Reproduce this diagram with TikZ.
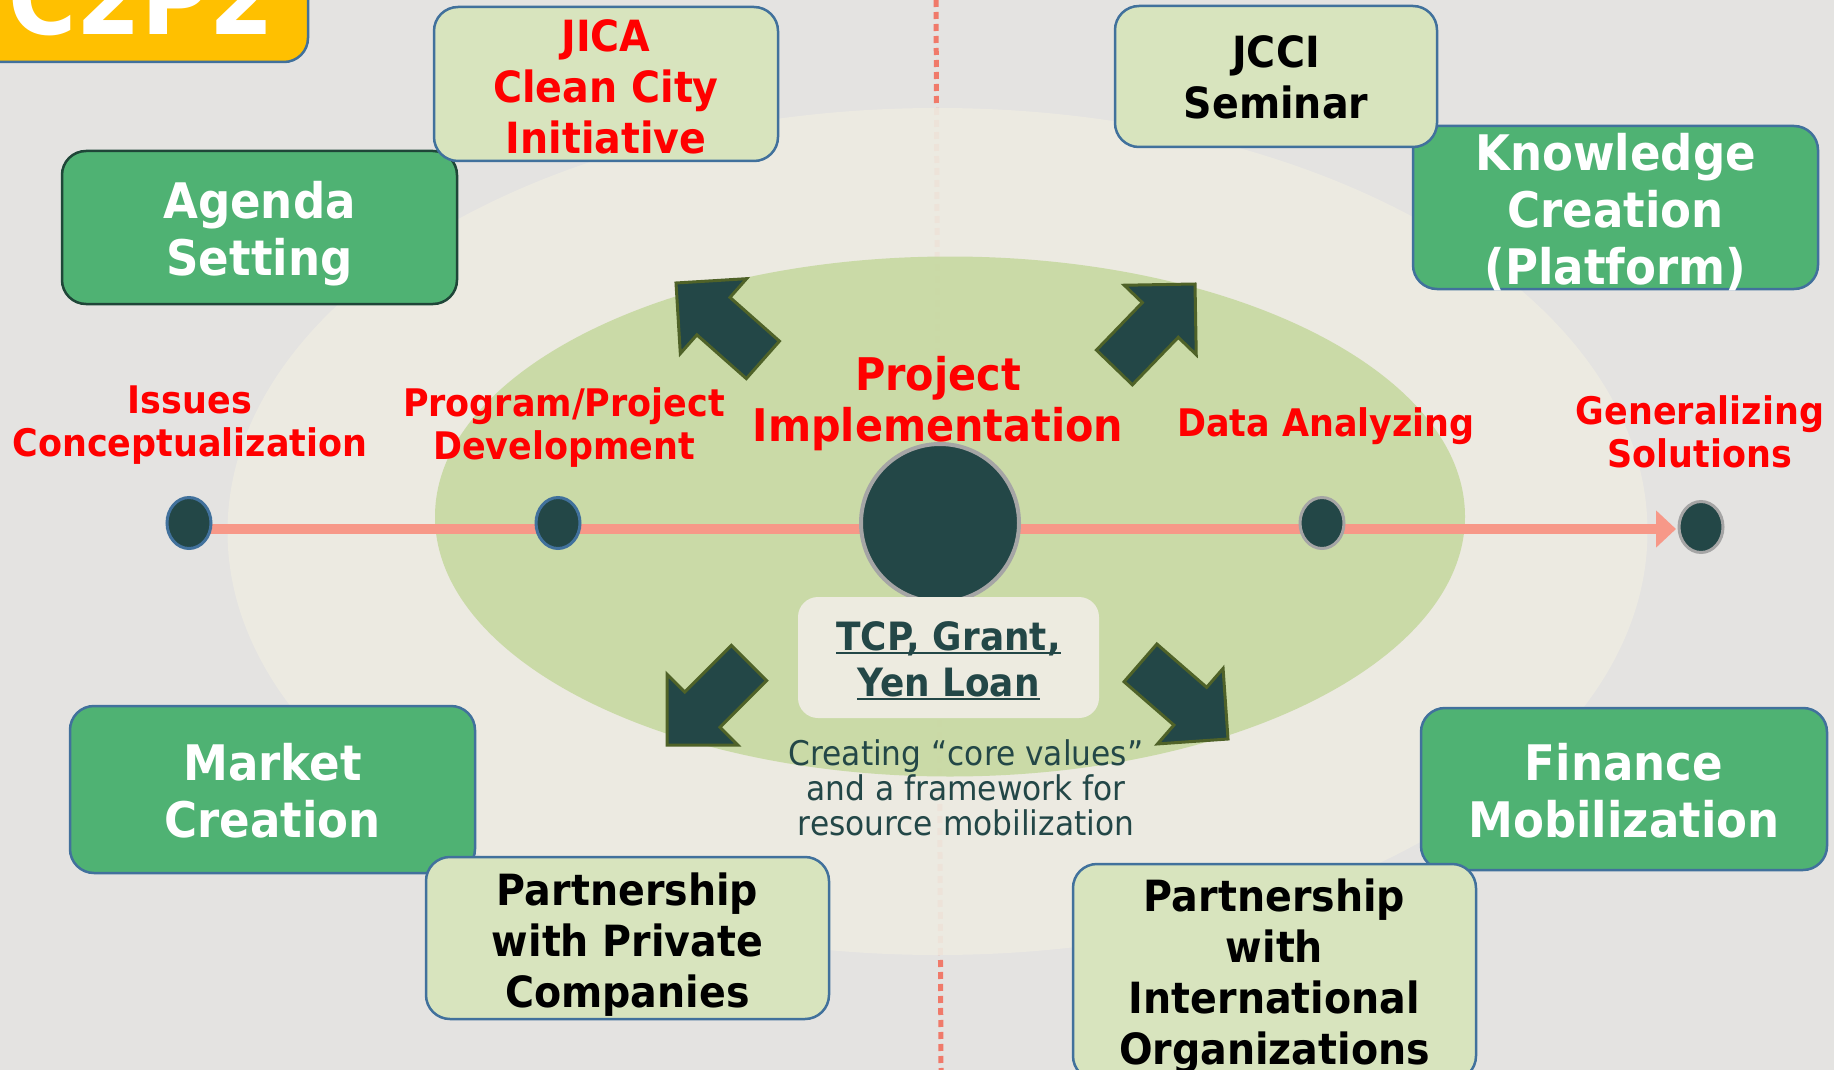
\documentclass[tikz,border=0pt]{standalone}
\usepackage{fontspec}
\setmainfont{DejaVu Sans}[FakeStretch=0.92]
\usetikzlibrary{arrows.meta,shapes.geometric}
\definecolor{bgcol}{HTML}{E4E3E1}
\definecolor{paleell}{HTML}{EDEBE2}
\definecolor{greenell}{HTML}{C8D9A3}
\definecolor{tealc}{HTML}{234747}
\definecolor{olivec}{HTML}{4F6228}
\definecolor{gbox}{HTML}{4FB273}
\definecolor{lbox}{HTML}{D8E4BE}
\definecolor{boxblue}{HTML}{41719C}
\definecolor{agborder}{HTML}{1F4638}
\definecolor{salmonc}{HTML}{F79888}
\definecolor{dashc}{HTML}{F07A6A}
\definecolor{yellowc}{HTML}{FFC000}
\definecolor{grayb}{HTML}{A5A5A5}
\definecolor{creamc}{HTML}{EDEBE0}
\newsavebox\ulbox
\newcommand\myul[1]{\sbox\ulbox{#1}\rlap{\rule[-0.1em]{\wd\ulbox}{0.07em}}\usebox\ulbox}
\newcommand\myblockarrow[3]{%
  \begin{scope}[shift={(#1,#2)},rotate=#3]
    \draw[blockarrow] (0,0) -- (-50,50) -- (-50,25) -- (-116,25) -- (-116,-25) -- (-50,-25) -- (-50,-50) -- cycle;
  \end{scope}}
\tikzset{
  every node/.style={inner sep=0pt, outer sep=0pt},
  greenbox/.style={draw=boxblue, line width=2.5pt, fill=gbox, rounded corners=24pt},
  lightbox/.style={draw=boxblue, line width=2.5pt, fill=lbox, rounded corners=24pt},
  greentext/.style={text=white, font=\bfseries\fontsize{49}{57}\selectfont, align=center},
  lighttext/.style={text=black, font=\bfseries\fontsize{43}{51}\selectfont, align=center},
  redlabel/.style={text=red, font=\bfseries\fontsize{38}{43}\selectfont, align=center},
  tldot/.style={ellipse, fill=tealc, line width=3pt, minimum width=44pt, minimum height=51pt},
  blockarrow/.style={fill=tealc, draw=olivec, line width=3pt, line join=miter},
  timeline/.style={salmonc, line width=10pt, -{Triangle[length=20pt,width=36pt]}},
  dashline/.style={dashc, line width=5pt, dash pattern=on 7pt off 5pt}
}
\begin{document}
\begin{tikzpicture}[x=1pt,y=1pt]
\useasboundingbox (0,0) rectangle (1834,-1070);
\clip (0,0) rectangle (1834,-1070);
\fill[bgcol] (0,0) rectangle (1834,-1070);
% dashed divider
\coordinate (dtop) at (936,0);
\coordinate (dbot) at (941,-1070);
\draw[dashline] (dtop) -- (dbot);
% ellipses
\fill[paleell, fill opacity=0.93] (937.5,-531.5) ellipse [x radius=710pt, y radius=423.5pt];
\fill[greenell, fill opacity=0.93] (950,-516.5) ellipse [x radius=515pt, y radius=260pt];
% timeline
\coordinate (tlstart) at (189,-529);
\coordinate (tlend) at (1676,-529);
\draw[timeline] (tlstart) -- (tlend);
% dots
\node[tldot, draw=boxblue] (d1) at (189,-523) {};
\node[tldot, draw=boxblue] (d2) at (558,-523) {};
\node[tldot, draw=grayb] (d3) at (1322,-523) {};
\node[tldot, draw=grayb] (d4) at (1701,-527) {};
\node[circle, fill=tealc, draw=grayb, line width=4pt, minimum size=158pt] (hub) at (940,-523) {};
% TCP box
\node[fill=creamc, rounded corners=20pt, minimum width=301pt, minimum height=121pt] (tcp) at (948.5,-657.5) {};
\node[text=tealc, font=\bfseries\fontsize{39}{46}\selectfont, align=center] (tcpt) at (948.5,-661)
  {\myul{TCP, Grant,}\\\myul{Yen Loan}};
% block arrows
\myblockarrow{676}{-283}{138.5}
\myblockarrow{1195}{-284}{46}
\myblockarrow{667}{-745}{225}
\myblockarrow{1228}{-739}{-41}
% red labels
\node[redlabel] (l1) at (190,-425) {Issues\\Conceptualization};
\node[redlabel] (l2) at (564,-428) {Program/Project\\Development};
\node[redlabel, font=\bfseries\fontsize{45}{51}\selectfont] (l3) at (938,-404) {Project\\Implementation};
\node[redlabel] (l4) at (1326,-426) {Data Analyzing};
\node[redlabel] (l5) at (1700,-432) {Generalizing\\Solutions};
% core values text
\node[text=tealc, font=\fontsize{34}{35}\selectfont, align=center] (cv) at (966,-788)
  {Creating “core values”\\and a framework for\\resource mobilization};
% C2P2
\node[fill=yellowc, draw=boxblue, line width=2.5pt, rounded corners=24pt, minimum width=340pt, minimum height=100pt] (c2box) at (138,-12) {};
\node[anchor=base, text=white, font=\bfseries\fontsize{101}{101}\selectfont] (c2txt) at (141,-35) {C2P2};
% green boxes
\node[greenbox, draw=agborder, minimum width=395pt, minimum height=153pt] (agenda) at (259.5,-227.5) {};
\node[greentext] (agendat) at (259.5,-233.5) {Agenda\\Setting};
\node[greenbox, minimum width=405pt, minimum height=163pt] (know) at (1615.5,-207.5) {};
\node[greentext] (knowt) at (1615.5,-212.5) {Knowledge\\Creation\\(Platform)};
\node[greenbox, minimum width=405pt, minimum height=167pt] (market) at (272.5,-789.5) {};
\node[greentext] (markett) at (272.5,-791) {Market\\Creation};
\node[greenbox, minimum width=406pt, minimum height=162pt] (finance) at (1624,-789) {};
\node[greentext] (financet) at (1624,-790.5) {Finance\\Mobilization};
% light boxes
\node[lightbox, minimum width=344pt, minimum height=154pt] (jica) at (606,-84) {};
\node[lighttext, text=red] (jicat) at (606,-86.5) {JICA\\Clean City\\Initiative};
\node[lightbox, minimum width=322pt, minimum height=141pt] (jcci) at (1276,-76.5) {};
\node[lighttext] (jccit) at (1276,-77.5) {JCCI\\Seminar};
\node[lightbox, minimum width=403pt, minimum height=162pt] (ppc) at (627.5,-938) {};
\node[lighttext] (ppct) at (627.5,-945) {Partnership\\with Private\\Companies};
\node[lightbox, minimum width=403pt, minimum height=216pt] (pio) at (1274.5,-972) {};
\node[lighttext] (piot) at (1274.5,-976) {Partnership\\with\\International\\Organizations};
\end{tikzpicture}
\end{document}
